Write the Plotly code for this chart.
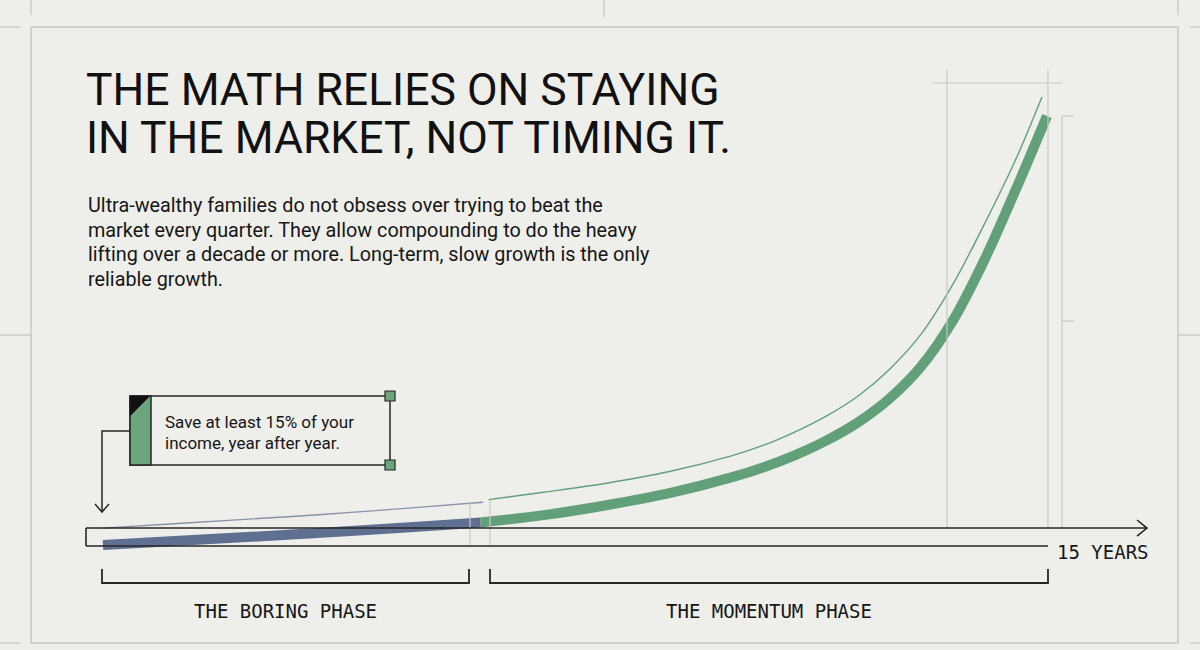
import plotly.graph_objects as go

# ---------------- data ----------------
years = [0, 1, 2, 3, 4, 5, 6, 7, 8, 9, 10, 10.5, 11, 11.5, 12, 12.5, 13, 13.5, 14, 14.5, 15]
# main (thick) growth curve, index units
growth_main = [0.7, 1.5, 2.3, 3.1, 4.0, 4.9, 5.9, 7.6, 9.9, 12.7, 16.4, 18.7, 21.5, 24.9,
               29.1, 34.6, 42.0, 52.5, 66.5, 82.8, 100.0]
# thin "potential" curve drawn just above it
thin_years_boring = [0, 1, 2, 3, 4, 5, 6.04]
thin_boring = [4.6, 5.5, 6.4, 7.3, 8.3, 9.4, 10.6]
thin_years_momentum = [6.13, 7, 8, 9, 10, 10.5, 11, 11.5, 12, 12.5, 13, 13.5, 14, 14.5, 14.92]
thin_momentum = [11.2, 12.9, 15.0, 17.7, 21.4, 23.8, 26.9, 30.6, 35.2, 41.4, 49.5, 60.9,
                 74.8, 89.8, 104.4]
phase_split = 6  # year where the boring phase ends

title_lines = ["THE MATH RELIES ON STAYING", "IN THE MARKET, NOT TIMING IT."]
para_lines = [
    "Ultra-wealthy families do not obsess over trying to beat the",
    "market every quarter. They allow compounding to do the heavy",
    "lifting over a decade or more. Long-term, slow growth is the only",
    "reliable growth.",
]
callout_lines = ["Save at least 15% of your", "income, year after year."]
phase_labels = ["THE BORING PHASE", "THE MOMENTUM PHASE"]
axis_label = "15 YEARS"

# ---------------- styling ----------------
BG = "#eeeeea"
GRID = "#c9c9c4"
DARK = "#262626"
GREEN = "#62a07a"
GREEN_LIGHT = "#6aa57c"
BLUE = "#5f6f92"
BLUE_THIN = "#8a92ab"
W, H = 1200, 650


def X(px):
    return px / W


def Y(py):
    return 1 - py / H


fig = go.Figure()

b_idx = [i for i, yv in enumerate(years) if yv <= phase_split]
m_idx = [i for i, yv in enumerate(years) if yv >= phase_split]

# thin curves
fig.add_trace(go.Scatter(x=thin_years_boring, y=thin_boring, mode="lines",
                         line=dict(color=BLUE_THIN, width=1.4, shape="spline"),
                         hoverinfo="skip", showlegend=False))
fig.add_trace(go.Scatter(x=thin_years_momentum, y=thin_momentum, mode="lines",
                         line=dict(color=GREEN, width=1.4, shape="spline"),
                         hoverinfo="skip", showlegend=False))
# thick curves
fig.add_trace(go.Scatter(x=[years[i] for i in b_idx], y=[growth_main[i] for i in b_idx],
                         mode="lines", line=dict(color=BLUE, width=10, shape="spline"),
                         hoverinfo="skip", showlegend=False))
fig.add_trace(go.Scatter(x=[years[i] for i in m_idx], y=[growth_main[i] for i in m_idx],
                         mode="lines", line=dict(color=GREEN, width=10, shape="spline"),
                         hoverinfo="skip", showlegend=False))

shapes = []


def line(x0, y0, x1, y1, color=GRID, width=1.4):
    shapes.append(dict(type="line", xref="paper", yref="paper",
                       x0=X(x0), y0=Y(y0), x1=X(x1), y1=Y(y1),
                       line=dict(color=color, width=width)))


def path(pts, color=DARK, width=1.6, fill=None, closed=False):
    d = "M" + " L".join(f"{X(a):.5f},{Y(b):.5f}" for a, b in pts)
    if closed:
        d += " Z"
    s = dict(type="path", xref="paper", yref="paper", path=d,
             line=dict(color=color, width=width))
    if fill:
        s["fillcolor"] = fill
    shapes.append(s)


def rect(x0, y0, x1, y1, color=DARK, width=1.6, fill=None):
    s = dict(type="rect", xref="paper", yref="paper",
             x0=X(x0), y0=Y(y0), x1=X(x1), y1=Y(y1),
             line=dict(color=color, width=width))
    if fill:
        s["fillcolor"] = fill
    shapes.append(s)


# panel frame and outer grid fragments
rect(31, 27, 1178, 643, color=GRID, width=1.5)
line(31, 0, 31, 15)
line(604, 0, 604, 17)
line(1178, 0, 1178, 15)
line(0, 27, 20, 27)
line(1190, 27, 1200, 27)
line(0, 335, 31, 335)
line(1178, 335, 1200, 335)
line(0, 643, 20, 643)
line(1190, 643, 1200, 643)

# inner guides
line(947, 70, 947, 528, width=1.2)
line(1048, 70, 1048, 528, width=1.2)
line(933, 83, 1062, 83, width=1.2)
line(1062, 116, 1062, 528, width=1.2)
line(1062, 116, 1074, 116, width=1.2)
line(1062, 321, 1074, 321, width=1.2)
line(470, 503, 470, 546, width=1.2)
line(490, 500, 490, 546, width=1.2)

# time axis
line(86, 528, 1146, 528, color=DARK, width=1.6)
path([(1137, 520), (1147, 528), (1137, 536)])
line(86, 546, 1048, 546, color=DARK, width=1.6)
line(86, 528, 86, 546, color=DARK, width=1.6)

# phase brackets
path([(102, 569), (102, 583), (469, 583), (469, 569)], width=1.8)
path([(490, 569), (490, 583), (1048, 583), (1048, 569)], width=1.8)

# callout
rect(130, 396, 390, 465, width=1.5)
rect(130, 396, 151, 465, width=1.5, fill=GREEN_LIGHT)
path([(130, 396), (150, 396), (130, 416)], width=0.5, fill="#111111", closed=True)
rect(385, 391, 395, 401, width=1.2, fill=GREEN_LIGHT)
rect(385, 460, 395, 470, width=1.2, fill=GREEN_LIGHT)
path([(130, 431), (102, 431), (102, 512)], width=1.5)
path([(95, 504), (102, 512), (109, 504)], width=1.5)

annotations = []


def text(t, x, y, size, family, xanchor="left", color="#161616"):
    annotations.append(dict(text=t, x=X(x), y=Y(y), xref="paper", yref="paper",
                            xanchor=xanchor, yanchor="middle", showarrow=False,
                            font=dict(size=size, family=family, color=color)))


SANS = "Roboto, 'Noto Sans', sans-serif"
MONO = "'DejaVu Sans Mono', 'Liberation Mono', monospace"

text(title_lines[0], 84, 90, 44.5, SANS, color="#111111")
text(title_lines[1], 84, 138, 44.5, SANS, color="#111111")
for i, t in enumerate(para_lines):
    text(t, 86, 206 + i * 24.5, 19.8, SANS)
for i, t in enumerate(callout_lines):
    text(t, 163, 422 + i * 21, 17, SANS)
text(phase_labels[0], 285, 611, 19, MONO, xanchor="center")
text(phase_labels[1], 769, 611, 19, MONO, xanchor="center")
text(axis_label, 1055, 552, 19, MONO)

# axes mapping: years -> px = 103 + 62.93*yr ; value -> py = 548 - 4.32*v
fig.update_layout(
    width=W, height=H,
    margin=dict(l=0, r=0, t=0, b=0),
    paper_bgcolor=BG, plot_bgcolor=BG,
    xaxis=dict(range=[-103 / 62.93, (W - 103) / 62.93], visible=False, fixedrange=True),
    yaxis=dict(range=[(548 - H) / 4.32, 548 / 4.32], visible=False, fixedrange=True),
    shapes=shapes,
    annotations=annotations,
    showlegend=False,
)

fig.write_html("out.html")
